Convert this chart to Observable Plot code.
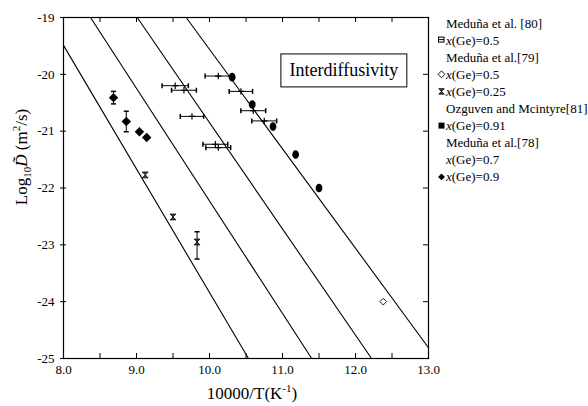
<!DOCTYPE html>
<html>
<head>
<meta charset="utf-8">
<script src="https://cdn.jsdelivr.net/npm/d3@7"></script>
<script src="https://cdn.jsdelivr.net/npm/@observablehq/plot@0.6"></script>
<style>
  html, body { margin: 0; padding: 0; background: white; }
  #chart { position: relative; width: 588px; height: 406px; }
  svg { display: block; }
  #chart svg, #chart svg text { font-family: 'Liberation Serif', 'Times New Roman', serif !important; }
</style>
</head>
<body>
<div id="chart"></div>
<script>
// ---------------- data ----------------
// Meduña et al. [80], x(Ge)=0.5  (horizontal error bars)
const m80_T   = [9.53, 9.65, 9.76, 10.08, 10.12];
const m80_D   = [-20.20, -20.28, -20.74, -21.23, -21.29];
const m80_err = [0.18, 0.17, 0.16, 0.17, 0.17];
// Meduña et al. [79], x(Ge)=0.5 (open diamond)
const m79a_T = [12.38];
const m79a_D = [-24.0];
// Meduña et al. [79], x(Ge)=0.25 (hourglass)
const m79b_T  = [9.12, 9.50, 9.83];
const m79b_D  = [-21.77, -22.51, -22.95];
const m79b_lo = [null, null, -23.25];
const m79b_hi = [null, null, -22.77];
// Ozguven and Mcintyre [81], x(Ge)=0.91
const oz_T = [10.31, 10.585, 10.87, 11.18, 11.50];
const oz_D = [-20.05, -20.53, -20.92, -21.41, -22.0];
// Meduña et al. [78], x(Ge)=0.7 (horizontal error bars)
const m78a_T   = [10.12, 10.43, 10.60, 10.75];
const m78a_D   = [-20.03, -20.30, -20.64, -20.82];
const m78a_err = [0.18, 0.16, 0.17, 0.17];
// Meduña et al. [78], x(Ge)=0.9 (filled diamond, vertical error bars)
const m78b_T   = [8.685, 8.86, 9.04, 9.14];
const m78b_D   = [-20.41, -20.83, -21.01, -21.11];
const m78b_err = [0.11, 0.18, 0, 0];
// Arrhenius fit lines (end points)
const fit1_T = [8.0, 10.534],  fit1_D = [-19.49, -25.0];
const fit2_T = [8.37, 11.40],  fit2_D = [-19.0, -25.0];
const fit3_T = [9.01, 12.22],  fit3_D = [-19.0, -25.0];
const fit4_T = [9.68, 13.0],   fit4_D = [-19.0, -24.81];
// axes
const xTickLabels = [8, 9, 10, 11, 12, 13];
const xTicks = [8.5, 9, 9.5, 10, 10.5, 11, 11.5, 12, 12.5];
const yTicks = [-25, -24, -23, -22, -21, -20, -19];
const yInnerTicks = [-24, -23, -22, -21, -20];
const legendRows = [
  {head: "Meduña et al. [80]"},
  {sym: "sq", text: "=0.5"},
  {head: "Meduña et al.[79]"},
  {sym: "odia", text: "=0.5"},
  {sym: "hg", text: "=0.25"},
  {head: "Ozguven and Mcintyre[81]"},
  {sym: "fsq", text: "=0.91"},
  {head: "Meduña et al.[78]"},
  {sym: "plus", text: "=0.7"},
  {sym: "fdia", text: "=0.9"}
];
const boxLabel = "Interdiffusivity";

// ---------------- tables ----------------
const zip2 = (T, D, extra = {}) => T.map((t, i) => {
  const o = {T: t, D: D[i]};
  for (const k in extra) o[k] = extra[k][i];
  return o;
});
const m80  = zip2(m80_T, m80_D, {e: m80_err});
const m79a = zip2(m79a_T, m79a_D);
const m79b = zip2(m79b_T, m79b_D, {lo: m79b_lo, hi: m79b_hi});
const oz   = zip2(oz_T, oz_D);
const m78a = zip2(m78a_T, m78a_D, {e: m78a_err});
const m78b = zip2(m78b_T, m78b_D, {e: m78b_err});
const fits = [[fit1_T, fit1_D], [fit2_T, fit2_D], [fit3_T, fit3_D], [fit4_T, fit4_D]]
  .flatMap(([T, D], k) => T.map((t, i) => ({T: t, D: D[i], k})));
const hBars = [...m80, ...m78a];
const vBars = [
  ...m79b.filter(d => d.lo != null).map(d => ({T: d.T, y1: d.lo, y2: d.hi})),
  ...m78b.filter(d => d.e > 0).map(d => ({T: d.T, y1: d.D - d.e, y2: d.D + d.e}))
];

// ---------------- custom symbols ----------------
const hourglass = {draw(c, size) { const s = Math.sqrt(size) / 2; c.moveTo(-s, -s); c.lineTo(s, -s); c.lineTo(-s, s); c.lineTo(s, s); c.closePath(); }};
const ellipse = {draw(c, size) {
  const r = Math.sqrt(size / Math.PI), rx = r * 0.85, ry = r * 1.08, k = 0.5523;
  c.moveTo(rx, 0);
  c.bezierCurveTo(rx, ry * k, rx * k, ry, 0, ry);
  c.bezierCurveTo(-rx * k, ry, -rx, ry * k, -rx, 0);
  c.bezierCurveTo(-rx, -ry * k, -rx * k, -ry, 0, -ry);
  c.bezierCurveTo(rx * k, -ry, rx, -ry * k, rx, 0);
  c.closePath();
}};
const vcap = {draw(c, size) { const h = Math.sqrt(size / Math.PI); c.moveTo(0, -h); c.lineTo(0, h); }};
const hcap = {draw(c, size) { const h = Math.sqrt(size / Math.PI); c.moveTo(-h, 0); c.lineTo(h, 0); }};

const FONT = "Liberation Serif, Times New Roman, serif";
const W = 588, H = 406, mL = 63, mR = 160, mT = 17, mB = 48;
const innerH = H - mT - mB;

const plot = Plot.plot({
  width: W, height: H,
  marginLeft: mL, marginRight: mR, marginTop: mT, marginBottom: mB,
  x: {domain: [8, 13]},
  y: {domain: [-25, -19]},
  style: {fontFamily: FONT, fontSize: "13px", color: "black", background: "white"},
  marks: [
    Plot.frame({stroke: "black", strokeWidth: 1.2}),
    Plot.axisX({ticks: xTickLabels, tickFormat: d => d.toFixed(1), tickSize: 0, tickPadding: 6, label: null, fontFamily: FONT, fontSize: 13}),
    Plot.axisY({ticks: yTicks, tickFormat: d => String(d), tickSize: 3, tickPadding: 6, label: null, fontFamily: FONT, fontSize: 13}),
    Plot.tickX(xTicks, {x: d => d, insetTop: innerH - 5, stroke: "black"}),
    Plot.tickX(xTicks, {x: d => d, insetBottom: innerH - 5, stroke: "black"}),
    Plot.tickY(yInnerTicks, {y: d => d, insetLeft: W - mL - mR - 5, stroke: "black"}),
    Plot.tickY(yInnerTicks, {y: d => d, insetRight: W - mL - mR - 3, stroke: "black"}),
    // fit lines
    Plot.line(fits, {x: "T", y: "D", z: "k", stroke: "black", strokeWidth: 1.1}),
    // horizontal error bars
    Plot.ruleY(hBars, {y: "D", x1: d => d.T - d.e, x2: d => d.T + d.e, stroke: "black", strokeWidth: 1}),
    Plot.dot(hBars, {x: d => d.T - d.e, y: "D", symbol: vcap, r: 2.5, stroke: "black", fill: "none"}),
    Plot.dot(hBars, {x: d => d.T + d.e, y: "D", symbol: vcap, r: 2.5, stroke: "black", fill: "none"}),
    // vertical error bars
    Plot.ruleX(vBars, {x: "T", y1: "y1", y2: "y2", stroke: "black", strokeWidth: 1}),
    Plot.dot(vBars, {x: "T", y: "y1", symbol: hcap, r: 2.5, stroke: "black", fill: "none"}),
    Plot.dot(vBars, {x: "T", y: "y2", symbol: hcap, r: 2.5, stroke: "black", fill: "none"}),
    // markers
    Plot.dot(m80, {x: "T", y: "D", symbol: "plus", r: 2.2, stroke: "black", strokeWidth: 1.2}),
    Plot.dot(m78a, {x: "T", y: "D", symbol: "plus", r: 2.2, stroke: "black", strokeWidth: 1.2}),
    Plot.dot(oz, {x: "T", y: "D", symbol: ellipse, r: 4, fill: "black", stroke: "none"}),
    Plot.dot(m78b, {x: "T", y: "D", symbol: "diamond2", r: 3.3, fill: "black", stroke: "black"}),
    Plot.dot(m79b, {x: "T", y: "D", symbol: hourglass, r: 3.3, fill: "#444", stroke: "black", strokeWidth: 0.8}),
    Plot.dot(m79a, {x: "T", y: "D", symbol: "diamond2", r: 3, fill: "white", stroke: "black", strokeWidth: 0.9})
  ]
});
document.getElementById("chart").appendChild(plot);

const svg = d3.select(plot);
const sx = plot.scale("x"), sy = plot.scale("y");

// annotation box
const gBox = svg.append("g").attr("font-family", FONT);
const bx = sx.apply(10.985), by = sy.apply(-19.65), bw = sx.apply(12.71) - bx, bh = sy.apply(-20.23) - by;
gBox.append("rect").attr("x", bx).attr("y", by).attr("width", bw).attr("height", bh)
  .attr("fill", "white").attr("stroke", "black").attr("stroke-width", 1);
gBox.append("text").attr("x", bx + bw / 2).attr("y", by + bh / 2 + 6).attr("text-anchor", "middle")
  .attr("font-size", 18).text(boxLabel);

// axis titles
const yt = svg.append("text").attr("transform", `translate(27,${157}) rotate(-90)`)
  .attr("text-anchor", "middle").attr("font-family", FONT).attr("font-size", 17);
yt.append("tspan").text("Log");
yt.append("tspan").attr("font-size", 11).attr("dy", 4).text("10");
yt.append("tspan").attr("dy", -4).attr("font-style", "italic").text("D\u0303");
yt.append("tspan").text(" (m");
yt.append("tspan").attr("font-size", 11).attr("dy", -7).text("2");
yt.append("tspan").attr("dy", 7).text("/s)");

const xt = svg.append("text").attr("x", 252).attr("y", 399)
  .attr("text-anchor", "middle").attr("font-family", FONT).attr("font-size", 17);
xt.append("tspan").text("10000/T(K");
xt.append("tspan").attr("font-size", 11).attr("dy", -7).text("-1");
xt.append("tspan").attr("dy", 7).text(")");

// legend
const gL = svg.append("g").attr("font-size", 13).attr("font-family", FONT).attr("text-anchor", "start");
const sym = {
  sq: g => { g.append("rect").attr("x", -3).attr("y", -3).attr("width", 5.5).attr("height", 5).attr("fill", "none").attr("stroke", "black").attr("stroke-width", 1);
             g.append("line").attr("x1", -3).attr("x2", 2.5).attr("y1", -0.5).attr("y2", -0.5).attr("stroke", "black"); },
  odia: g => g.append("path").attr("d", d3.symbol(d3.symbolDiamond2, 30)()).attr("fill", "white").attr("stroke", "black").attr("stroke-width", 0.9),
  hg: g => g.append("path").attr("d", d3.symbol(hourglass, 30)()).attr("fill", "#444").attr("stroke", "black").attr("stroke-width", 0.8),
  fsq: g => g.append("rect").attr("x", -3).attr("y", -3).attr("width", 6).attr("height", 6).attr("fill", "black"),
  plus: g => g.append("path").attr("d", d3.symbol(d3.symbolPlus, 14)()).attr("fill", "black"),
  fdia: g => g.append("path").attr("d", d3.symbol(d3.symbolDiamond2, 30)()).attr("fill", "black")
};
legendRows.forEach((r, i) => {
  const y = 23 + i * 17.1;
  if (r.head) {
    gL.append("text").attr("x", 446).attr("y", y + 4.5).text(r.head);
  } else {
    const g = gL.append("g").attr("transform", `translate(441.5,${y})`);
    sym[r.sym](g);
    const t = gL.append("text").attr("x", 446).attr("y", y + 4.5);
    t.append("tspan").attr("font-style", "italic").text("x");
    t.append("tspan").text("(Ge)" + r.text);
  }
});
</script>
</body>
</html>
